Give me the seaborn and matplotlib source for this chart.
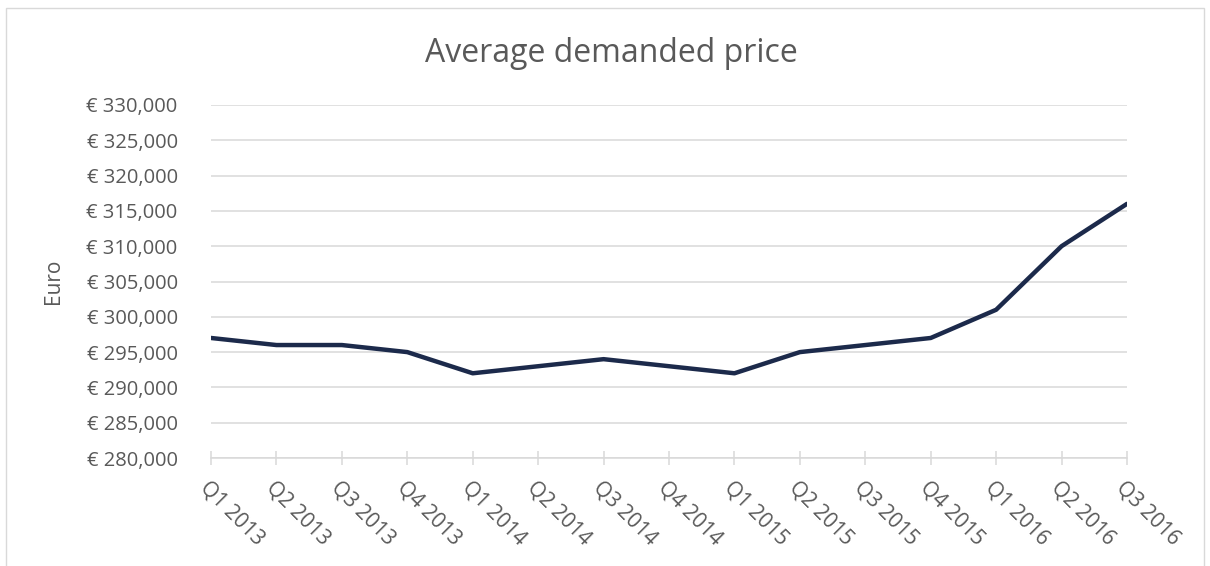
import numpy as np
import pandas as pd
import seaborn as sns
import matplotlib.pyplot as plt
from matplotlib.patches import Rectangle
from matplotlib.ticker import FuncFormatter

# dados
quarters = ['Q1 2013', 'Q2 2013', 'Q3 2013', 'Q4 2013',
            'Q1 2014', 'Q2 2014', 'Q3 2014', 'Q4 2014',
            'Q1 2015', 'Q2 2015', 'Q3 2015', 'Q4 2015',
            'Q1 2016', 'Q2 2016', 'Q3 2016']
prices = [297000, 296000, 296000, 295000,
          292000, 293000, 294000, 293000,
          292000, 295000, 296000, 297000,
          301000, 310000, 316000]

sns.set_theme(style='white')
plt.rcParams['font.family'] = ['Open Sans', 'DejaVu Sans']

df = pd.DataFrame({'pos': np.arange(len(quarters)), 'price': prices})

fig = plt.figure(figsize=(12.1, 5.66), dpi=100)
ax = fig.add_axes([0.1744, 0.1908, 0.757, 0.6237])

sns.lineplot(data=df, x='pos', y='price', ax=ax, color='#1c2a4b',
             linewidth=3.2, solid_capstyle='round', solid_joinstyle='round')

txt = '#595959'
ax.set_xlim(0, len(quarters) - 1)
ax.set_ylim(280000, 330000)
ax.set_yticks(np.arange(280000, 330001, 5000))
ax.yaxis.set_major_formatter(FuncFormatter(lambda v, p: '€ {:,.0f}'.format(v)))
ax.set_xticks(df['pos'])
ax.set_xticklabels(quarters, rotation=-45, ha='left', va='top',
                   rotation_mode='anchor')
ax.grid(axis='y', color='#d9d9d9', linewidth=1.1)
ax.set_axisbelow(True)
for s in ['top', 'right', 'left']:
    ax.spines[s].set_visible(False)
ax.spines['bottom'].set_color('#d9d9d9')
ax.spines['bottom'].set_linewidth(1.1)
ax.tick_params(axis='x', direction='inout', length=10, width=1.1,
               color='#d9d9d9', labelsize=15, labelcolor=txt, pad=9,
               bottom=True)
ax.tick_params(axis='y', length=0, labelsize=14.5, labelcolor=txt, pad=24)

ax.set_xlabel('')
ax.set_ylabel('Euro', fontsize=15, color=txt, labelpad=16)
fig.text(0.505, 0.905, 'Average demanded price', ha='center', va='center',
         fontsize=23, color=txt)

fig.patches.append(Rectangle((0.005, -0.01), 0.99, 0.996, transform=fig.transFigure,
                             fill=False, edgecolor='#d9d9d9', linewidth=1))

fig.savefig('out.png', dpi=100)
